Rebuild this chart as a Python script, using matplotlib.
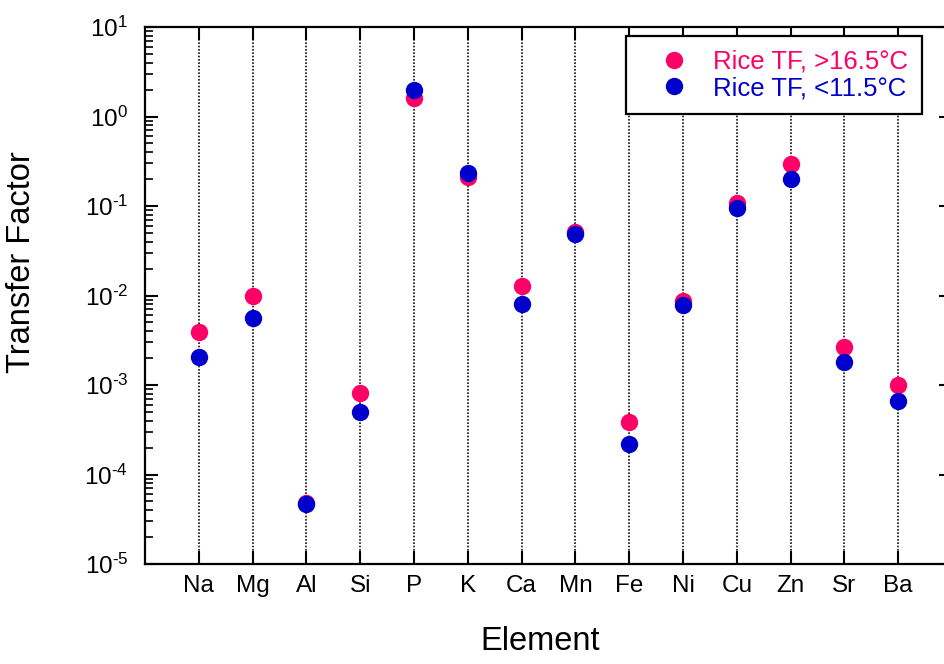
import matplotlib
matplotlib.use("Agg")
import numpy as np
import matplotlib.pyplot as plt
from matplotlib.ticker import LogLocator, NullFormatter, FixedLocator, FuncFormatter

plt.rcParams['font.family'] = ['Liberation Sans', 'DejaVu Sans']
plt.rcParams['mathtext.default'] = 'regular'

elements = ['Na', 'Mg', 'Al', 'Si', 'P', 'K', 'Ca', 'Mn', 'Fe', 'Ni', 'Cu', 'Zn', 'Sr', 'Ba']
tf_warm = [3.9e-3, 9.9e-3, 4.8e-5, 8.2e-4, 1.6, 0.213, 0.0128, 0.0516,
           3.83e-4, 8.75e-3, 0.107, 0.294, 2.68e-3, 1.0e-3]
tf_cool = [2.06e-3, 5.65e-3, 4.64e-5, 4.95e-4, 1.98, 0.232, 8.04e-3, 0.0482,
           2.17e-4, 7.83e-3, 0.0957, 0.2, 1.82e-3, 6.68e-4]
decades = [1e-5, 1e-4, 1e-3, 1e-2, 1e-1, 1e0, 1e1]

red = '#FF0066'
blue = '#0000CC'


def pow10(v, pos):
    n = int(round(np.log10(v)))
    exp = ('\u2010%d' % -n) if n < 0 else '%d' % n
    return '$10^{%s}$' % exp


fig = plt.figure(figsize=(9.45, 6.64), dpi=100)
ax = fig.add_axes([0.1534, 0.1506, 0.854, 0.8087])

x = list(range(1, len(elements) + 1))
ax.plot(x, tf_warm, 'o', color=red, markersize=11.5, label='Rice TF, >16.5°C', zorder=3)
ax.plot(x, tf_cool, 'o', color=blue, markersize=11.5, label='Rice TF, <11.5°C', zorder=4)

ax.set_yscale('log')
ax.set_ylim(1e-5, 10)
ax.set_xlim(0, 15)

ax.xaxis.set_major_locator(FixedLocator(x))
ax.set_xticklabels(elements)
ax.yaxis.set_major_locator(FixedLocator(decades))
ax.yaxis.set_major_formatter(FuncFormatter(pow10))
ax.yaxis.set_minor_locator(LogLocator(base=10, subs=range(2, 10), numticks=20))
ax.yaxis.set_minor_formatter(NullFormatter())

ax.grid(axis='x', which='major', color='#111111', linestyle=(0, (1, 1)), linewidth=1.2, zorder=1)

ax.tick_params(axis='both', which='major', direction='in', length=9.5, width=1.5,
               labelsize=17.5, top=True, right=True, pad=8)
ax.tick_params(axis='y', which='major', pad=12)
ax.tick_params(axis='y', which='minor', direction='in', length=5.5, width=1.2, right=True)
for s in ax.spines.values():
    s.set_linewidth(1.6)

ax.set_xlabel('Element', fontsize=23.5)
ax.set_ylabel('Transfer Factor', fontsize=23.5)
ax.xaxis.set_label_coords(0.49, -0.115)
ax.yaxis.set_label_coords(-0.134, 0.562)

leg = ax.legend(loc='upper right', bbox_to_anchor=(922 / 945, 1 - 36 / 664),
                bbox_transform=fig.transFigure, borderaxespad=0, fontsize=18.5,
                frameon=True, fancybox=False, framealpha=1, edgecolor='black',
                labelcolor='markerfacecolor', handletextpad=0.2, labelspacing=0.1,
                borderpad=0.53, handlelength=2.67, markerscale=1.0)
leg.get_frame().set_linewidth(1.6)
leg.set_zorder(5)

fig.savefig('out.png', dpi=100)
